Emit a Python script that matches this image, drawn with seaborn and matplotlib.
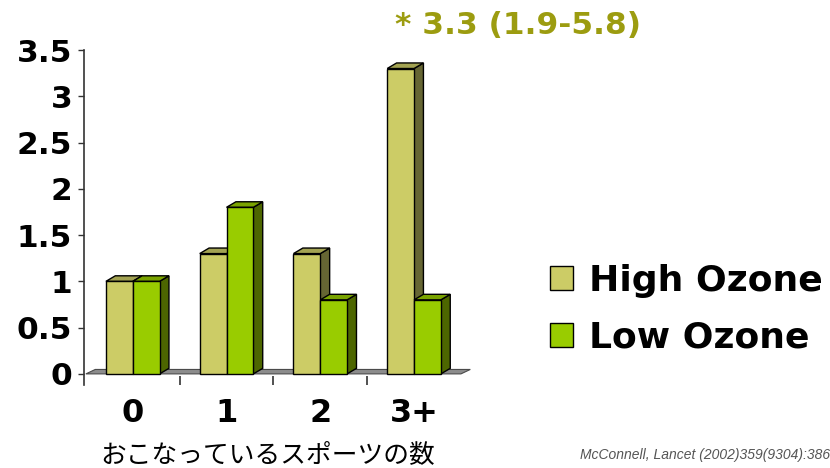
import matplotlib
matplotlib.use("Agg")
import matplotlib.pyplot as plt
from matplotlib.patches import Polygon, Patch
import seaborn as sns
import pandas as pd

# ---- data ----
categories = ["0", "1", "2", "3+"]
high_ozone = [1.0, 1.3, 1.3, 3.3]
low_ozone = [1.0, 1.8, 0.8, 0.8]
series_names = ["High Ozone", "Low Ozone"]
y_ticks = [0, 0.5, 1, 1.5, 2, 2.5, 3, 3.5]
y_tick_labels = ["0", "0.5", "1", "1.5", "2", "2.5", "3", "3.5"]
x_label = "おこなっているスポーツの数"
annotation = "* 3.3 (1.9-5.8)"
citation = "McConnell, Lancet (2002)359(9304):386"

front_colors = ["#CCCC66", "#99CC00"]
side_colors = ["#666633", "#4D6600"]
top_colors = ["#A3A352", "#7AA300"]

df = pd.DataFrame({
    "sports": categories * 2,
    "ratio": high_ozone + low_ozone,
    "ozone": [series_names[0]] * len(categories) + [series_names[1]] * len(categories),
})

sns.set_theme(style="white")
plt.rcParams["font.family"] = ["DejaVu Sans"]
plt.rcParams["text.color"] = "black"
plt.rcParams["xtick.color"] = "black"
plt.rcParams["ytick.color"] = "black"
plt.rcParams["axes.labelcolor"] = "black"

fig = plt.figure(figsize=(8.3, 4.68), dpi=100)
ax = fig.add_axes([84 / 830, (468 - 385) / 468, 391 / 830, 335 / 468])

sns.barplot(data=df, x="sports", y="ratio", hue="ozone", palette=front_colors,
            width=0.572, saturation=1, edgecolor="black", linewidth=1.0,
            legend=False, ax=ax, zorder=2)

dx, dy = 0.10, 0.06
for i, cont in enumerate(ax.containers):
    for rect in cont:
        x0, w, h = rect.get_x(), rect.get_width(), rect.get_height()
        z = 2 + i
        rect.set_zorder(z + 0.1)
        side = Polygon([(x0 + w, 0), (x0 + w + dx, dy), (x0 + w + dx, h + dy), (x0 + w, h)],
                       closed=True, facecolor=side_colors[i], edgecolor="black",
                       linewidth=1.0, zorder=z, clip_on=False)
        top = Polygon([(x0, h), (x0 + dx, h + dy), (x0 + w + dx, h + dy), (x0 + w, h)],
                      closed=True, facecolor=top_colors[i], edgecolor="black",
                      linewidth=1.0, zorder=z, clip_on=False)
        ax.add_patch(side)
        ax.add_patch(top)

# floor
n = len(categories)
floor = Polygon([(-0.5, 0), (n - 0.5, 0), (n - 0.5 + dx, dy * 0.8), (-0.5 + dx, dy * 0.8)],
                closed=True, facecolor="#8C8C8C", edgecolor="#4A4A4A", linewidth=0.8,
                zorder=1, clip_on=False)
ax.add_patch(floor)

ax.set_xlim(-0.52, n - 0.5 + 0.15)
ax.set_ylim(-0.12, 3.5)
ax.set_yticks(y_ticks)
ax.set_yticklabels(y_tick_labels, fontsize=22.5, fontweight="bold")
ax.set_xticks(range(n))
ax.set_xticklabels(categories, fontsize=23, fontweight="bold")
ax.set_xticks([0.5, 1.5, 2.5], minor=True)
ax.tick_params(axis="y", which="major", left=True, length=4.5, width=1, color="#333333",
               pad=4, direction="out")
ax.tick_params(axis="x", which="major", bottom=True, length=0, pad=9)
ax.tick_params(axis="x", which="minor", bottom=True, length=6.5, width=1.2,
               color="#333333", direction="in")

for s in ["top", "right", "bottom"]:
    ax.spines[s].set_visible(False)
ax.spines["left"].set_color("#333333")
ax.spines["left"].set_linewidth(1.2)

ax.set_ylabel("")
ax.set_xlabel(x_label, fontsize=18.5, family=["Noto Sans CJK JP", "DejaVu Sans"],
              color="black")
ax.xaxis.set_label_coords((268 - 84) / 391, -(455 - 385) / 335)
ax.xaxis.label.set_va("center")

handles = [Patch(facecolor=front_colors[i], edgecolor="black", linewidth=1.0)
           for i in range(len(series_names))]
fig.legend(handles, series_names, loc="upper left", bbox_to_anchor=(517 / 830, 1 - 231 / 468),
           frameon=False, prop={"size": 26, "weight": "bold"},
           handlelength=0.65, handleheight=0.65, handletextpad=0.45, labelspacing=0.65)

fig.text(395 / 830, 1 - 26 / 468, annotation, fontsize=22.5, fontweight="bold",
         color="#9C9C10", ha="left", va="center")
fig.text(580 / 830, 1 - 455 / 468, citation, fontsize=10, style="italic",
         family=["Liberation Sans"], color="#555555", ha="left", va="center")

fig.savefig("out.png", dpi=100, facecolor="white")
